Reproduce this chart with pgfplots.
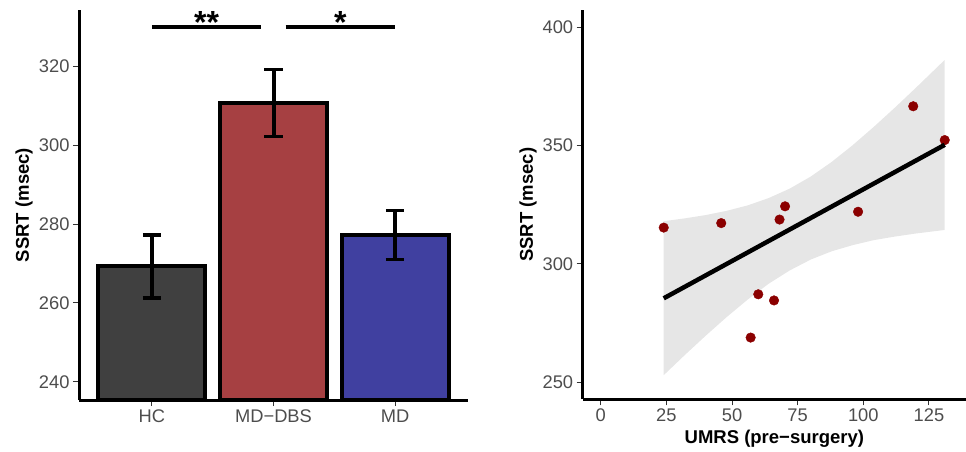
\documentclass[border=0pt]{standalone}
\usepackage{fontspec}
\setmainfont{Liberation Sans}
\usepackage{pgfplots}
\pgfplotsset{compat=1.18}

\definecolor{hcgrey}{RGB}{64,64,64}
\definecolor{dbsred}{RGB}{166,64,66}
\definecolor{mdblue}{RGB}{64,64,160}
\definecolor{ptred}{RGB}{139,0,0}
\definecolor{bandgrey}{RGB}{230,230,230}
\definecolor{ticktxt}{RGB}{77,77,77}
\definecolor{tickline}{RGB}{51,51,51}

\pgfplotsset{
  ggclassic/.style={
    scale only axis,
    axis x line*=bottom, axis y line*=left,
    axis line style={line width=3pt, -},
    tick align=outside,
    major tick length=6pt,
    tick style={line width=1pt, tickline},
    tick label style={font=\fontsize{18.3}{20}\selectfont, text=ticktxt},
    label style={font=\fontsize{18.5}{20}\selectfont\bfseries},
    /pgf/number format/assume math mode=true,
    clip mode=individual,
  },
  gbar/.style={ybar, bar width=0.88, bar shift=0pt, draw=black, line width=4pt},
}

\begin{document}
\begin{tikzpicture}
\useasboundingbox (0,0) rectangle (966pt,451pt);

% left: group means with error bars
\begin{axis}[ggclassic, at={(79pt,51pt)}, anchor=south west,
  width=389pt, height=390pt,
  xmin=-0.6, xmax=2.6, ymin=235.4, ymax=334.3,
  xtick={0,1,2}, xticklabels={HC, MD−DBS, MD},
  ytick={240,260,...,320},
  ylabel={SSRT (msec)},
  ylabel style={at={(axis description cs:-0.1414,0.5)}, anchor=center},
]
\addplot[gbar, fill=hcgrey] coordinates {(0,269.3)};
\addplot[gbar, fill=dbsred] coordinates {(1,310.7)};
\addplot[gbar, fill=mdblue] coordinates {(2,277.2)};
% whiskers (mean +- se)
\addplot[black, line width=4pt, no marks, unbounded coords=jump] coordinates {
  (0,261.3) (0,277.3) (nan,nan) (1,302.2) (1,319.2) (nan,nan) (2,271.0) (2,283.4)
};
% caps
\addplot[black, line width=3.5pt, no marks, unbounded coords=jump] coordinates {
  (-0.075,261.3) (0.075,261.3) (nan,nan) (-0.075,277.3) (0.075,277.3) (nan,nan)
  (0.925,302.2) (1.075,302.2) (nan,nan) (0.925,319.2) (1.075,319.2) (nan,nan)
  (1.925,271.0) (2.075,271.0) (nan,nan) (1.925,283.4) (2.075,283.4)
};
\draw[line width=4.7pt] (axis cs:0,330) -- (axis cs:0.9,330);
\draw[line width=4.7pt] (axis cs:1.1,330) -- (axis cs:2,330);
\node[font=\fontsize{32}{32}\selectfont\bfseries, anchor=base] at (axis cs:0.45,328.4) {**};
\node[font=\fontsize{32}{32}\selectfont\bfseries, anchor=base] at (axis cs:1.55,328.4) {*};
\end{axis}

% right: correlation with pre-surgery UMRS
\begin{axis}[ggclassic, at={(582.7pt,51.7pt)}, anchor=south west,
  width=383.3pt, height=389.3pt,
  xmin=-6.85, xmax=139.1, ymin=242.7, ymax=407.3,
  xtick={0,25,...,125}, ytick={250,300,350,400},
  xlabel={UMRS (pre−surgery)}, ylabel={SSRT (msec)},
  ylabel style={at={(axis description cs:-0.1427,0.5)}, anchor=center},
  xlabel style={at={(axis description cs:0.5,-0.102)}, anchor=center},
]
\addplot[fill=bandgrey, draw=none] coordinates {
  (24,318.0) (32,319.2) (40,320.6) (48,322.4) (56,324.7) (64,327.8) (72,331.8)
  (80,336.9) (88,343.1) (96,350.2) (104,357.9) (112,366.0) (120,374.4) (131,386.2)
  (131,314.3) (120,312.8) (112,311.5) (104,310.0) (96,307.9) (88,305.3) (80,301.8)
  (72,297.2) (64,291.6) (56,284.9) (48,277.5) (40,269.6) (32,261.4) (24,252.9)
};
\addplot[only marks, mark=*, mark size=4.8pt, ptred, mark options={draw=ptred, fill=ptred}] coordinates {
  (24.0,315.3) (45.9,317.2) (68.1,318.7) (70.2,324.3) (98.0,322.0)
  (119.0,366.6) (131.0,352.3) (60.0,287.1) (66.0,284.5) (57.1,268.8)
};
\addplot[black, line width=4.5pt, no marks] coordinates {(24,285.4) (131,350.3)};
\end{axis}
\end{tikzpicture}
\end{document}
